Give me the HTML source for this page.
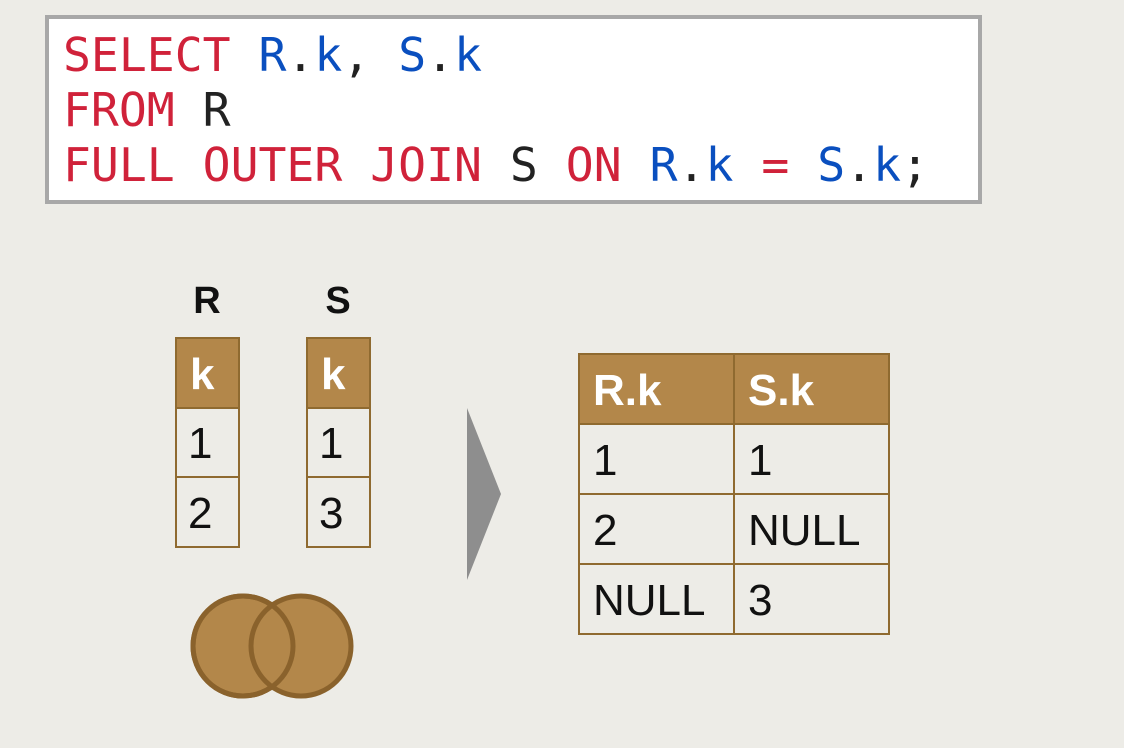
<!DOCTYPE html>
<html><head><meta charset="utf-8"><style>
html,body{margin:0;padding:0;background:#edece7;}
svg{display:block}
.c{font-family:"DejaVu Sans Mono","Liberation Mono",monospace;font-size:46.4px}
.s{font-family:"Liberation Sans",sans-serif;font-size:44px;fill:#111}
.h{font-family:"Liberation Sans",sans-serif;font-size:44px;font-weight:bold;fill:#fff}
</style></head><body>
<svg width="1124" height="748" viewBox="0 0 1124 748">
<rect x="0" y="0" width="1124" height="748" fill="#edece7"/>
<rect x="47" y="17" width="933" height="185" fill="#fff" stroke="#a8a8a8" stroke-width="4"/>
<text class="c" x="63" y="71" xml:space="preserve"><tspan fill="#d0223a">SELECT</tspan> <tspan fill="#0a4fbf">R</tspan><tspan fill="#222">.</tspan><tspan fill="#0a4fbf">k</tspan><tspan fill="#222">,</tspan> <tspan fill="#0a4fbf">S</tspan><tspan fill="#222">.</tspan><tspan fill="#0a4fbf">k</tspan></text>
<text class="c" x="63" y="126" xml:space="preserve"><tspan fill="#d0223a">FROM</tspan> <tspan fill="#222">R</tspan></text>
<text class="c" x="63" y="181" xml:space="preserve"><tspan fill="#d0223a">FULL OUTER JOIN</tspan> <tspan fill="#222">S</tspan> <tspan fill="#d0223a">ON</tspan> <tspan fill="#0a4fbf">R</tspan><tspan fill="#222">.</tspan><tspan fill="#0a4fbf">k</tspan> <tspan fill="#d0223a">=</tspan> <tspan fill="#0a4fbf">S</tspan><tspan fill="#222">.</tspan><tspan fill="#0a4fbf">k</tspan><tspan fill="#222">;</tspan></text>

<text x="207" y="313" text-anchor="middle" font-family="Liberation Sans,sans-serif" font-weight="bold" font-size="38" fill="#111">R</text>
<text x="338" y="313" text-anchor="middle" font-family="Liberation Sans,sans-serif" font-weight="bold" font-size="38" fill="#111">S</text>

<g stroke="#8f6a30" stroke-width="2">
<rect x="176" y="338" width="63" height="70" fill="#b3874a"/>
<rect x="176" y="408" width="63" height="69" fill="#edece7"/>
<rect x="176" y="477" width="63" height="70" fill="#edece7"/>
<rect x="307" y="338" width="63" height="70" fill="#b3874a"/>
<rect x="307" y="408" width="63" height="69" fill="#edece7"/>
<rect x="307" y="477" width="63" height="70" fill="#edece7"/>
</g>
<text class="h" x="190" y="389">k</text>
<text class="h" x="321" y="389">k</text>
<text class="s" x="188" y="458">1</text>
<text class="s" x="188" y="528">2</text>
<text class="s" x="319" y="458">1</text>
<text class="s" x="319" y="528">3</text>

<g fill="#b3874a" stroke="#8a622c" stroke-width="5">
<circle cx="243" cy="646" r="50"/>
<circle cx="301" cy="646" r="50"/>
<circle cx="243" cy="646" r="50" fill="none"/>
</g>

<polygon points="467,408 501,494 467,580" fill="#8e8e8e"/>

<g stroke="#8f6a30" stroke-width="2">
<rect x="579" y="354" width="310" height="70" fill="#b3874a"/>
<rect x="579" y="424" width="310" height="210" fill="#edece7"/>
<line x1="734" y1="354" x2="734" y2="634"/>
<line x1="579" y1="494" x2="889" y2="494"/>
<line x1="579" y1="564" x2="889" y2="564"/>
</g>
<text class="h" x="593" y="405">R.k</text>
<text class="h" x="748" y="405">S.k</text>
<text class="s" x="593" y="475">1</text>
<text class="s" x="748" y="475">1</text>
<text class="s" x="593" y="545">2</text>
<text class="s" x="748" y="545">NULL</text>
<text class="s" x="593" y="615">NULL</text>
<text class="s" x="748" y="615">3</text>
</svg>
</body></html>
